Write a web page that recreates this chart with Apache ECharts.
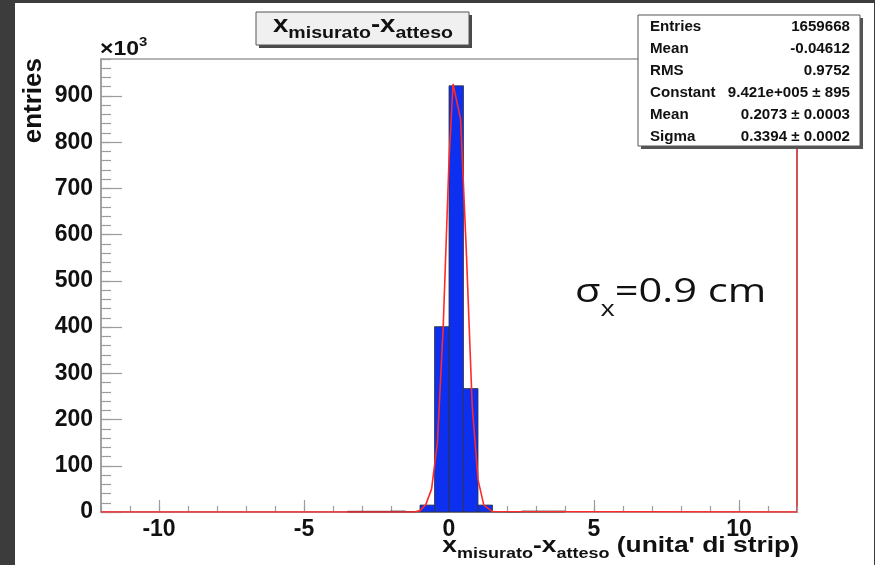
<!DOCTYPE html>
<html>
<head>
<meta charset="utf-8">
<title>x misurato - x atteso</title>
<script src="https://cdn.jsdelivr.net/npm/echarts@6/dist/echarts.min.js"></script>
<style>
html, body { margin: 0; padding: 0; background: #3c3c3c; }
#chart { width: 875px; height: 565px; }
</style>
</head>
<body>
<div id="chart"></div>
<script>
// histogram bins (low edge, strip units), counts in units of 10^3
var binWidth = 0.5;
var binStart = [-3.5, -3, -2.5, -2, -1.5, -1, -0.5, 0, 0.5, 1, 1.5, 2, 2.5, 3, 3.5];
var binCounts = [1.5, 1.5, 1.5, 2, 1, 15, 401, 922, 267, 15, 1, 0.5, 2, 2, 2];

// gaus fit
var fitX = [-12, -1.2, -1.0, -0.8, -0.6, -0.4, -0.2, 0.0, 0.14, 0.4, 0.6, 0.8, 1.0, 1.2, 1.5, 12];
var fitY = [0, 0, 3, 16, 50, 150, 400, 760, 926, 850, 560, 230, 70, 15, 1, 0];

var xMajorTicks = [-10, -5, 0, 5, 10];
var yMajorTicks = [0, 100, 200, 300, 400, 500, 600, 700, 800, 900];

// stats box
var statNames = ["Entries", "Mean", "RMS", "Constant", "Mean", "Sigma"];
var statValues = ["1659668", "-0.04612", "0.9752", "9.421e+005 \u00b1 895", "0.2073 \u00b1 0.0003", "0.3394 \u00b1 0.0002"];

var FONT = "'Liberation Sans'";
var TOP = 30;
var chart = echarts.init(document.getElementById("chart"), null, { renderer: "canvas" });

// text measuring, for sub/superscripts
var mctx = document.createElement("canvas").getContext("2d");
function textWidth(str, font) { mctx.font = font; return mctx.measureText(str).width; }

// parts: [[text, font, dy], ...]
function scriptText(parts, x, y, align, scaleX) {
  var w = 0, kids = [];
  parts.forEach(function (p) {
    kids.push({ type: "text", z: TOP, x: w, y: p[2], style: { text: p[0], font: p[1], fill: "#111", align: "left", verticalAlign: "middle" } });
    w += textWidth(p[0], p[1]);
  });
  var off = align === "right" ? -w : (align === "center" ? -w / 2 : 0);
  kids.forEach(function (k) { k.x += off; });
  return { type: "group", x: x, y: y, scaleX: scaleX || 1, children: kids };
}

function renderBin(params, api) {
  var x0 = api.value(0);
  var h = api.value(1);
  var pTop = api.coord([x0, h]);
  var pBot = api.coord([x0 + binWidth, 0]);
  return {
    type: "rect",
    shape: { x: pTop[0], y: pTop[1], width: pBot[0] - pTop[0], height: pBot[1] - pTop[1] },
    style: { fill: "#0c2ff0", stroke: "#333", lineWidth: 0.8 }
  };
}

var binData = binStart.map(function (b, i) { return [b, binCounts[i]]; });
var fitData = fitX.map(function (x, i) { return [x, fitY[i]]; });

// stats box graphic
var statChildren = [
  { type: "rect", z: TOP, shape: { x: 3, y: 3, width: 222, height: 131 }, style: { fill: "#555" } },
  { type: "rect", z: TOP, shape: { x: 0, y: 0, width: 222, height: 131 }, style: { fill: "#fff", stroke: "#555", lineWidth: 1 } }
];
statNames.forEach(function (n, i) {
  statChildren.push({ type: "text", z: TOP, x: 12, y: 12 + i * 22, scaleX: 1.08,
    style: { text: n, font: "bold 14px " + FONT, fill: "#111", verticalAlign: "middle", align: "left" } });
  statChildren.push({ type: "text", z: TOP, x: 212, y: 12 + i * 22, scaleX: 1.08,
    style: { text: statValues[i], font: "bold 14px " + FONT, fill: "#111", verticalAlign: "middle", align: "right" } });
});

var gray = "#9c9c9c";
var labelStyle = { color: "#111", fontFamily: "Liberation Sans", fontWeight: "bold", fontSize: 23 };

var B24 = "bold 24px " + FONT, B17 = "bold 17px " + FONT;
var B22 = "bold 22px " + FONT, B15 = "bold 15px " + FONT;

var option = {
  backgroundColor: "#3c3c3c",
  animation: false,
  grid: { left: 101, top: 59, right: 78, bottom: 53, show: true, borderColor: gray, borderWidth: 1.5, backgroundColor: "#fff" },
  xAxis: [
    { type: "value", min: -12, max: 12, interval: 1, position: "bottom",
      axisLine: { show: true, onZero: false, lineStyle: { color: gray, width: 1.5 } },
      axisTick: { show: true, inside: true, length: 6, lineStyle: { color: gray, width: 1.2 } },
      axisLabel: { show: false }, splitLine: { show: false } },
    { type: "value", min: -12, max: 12, interval: 1, position: "bottom",
      axisLine: { show: false, onZero: false },
      axisTick: { show: true, inside: true, length: 12, customValues: xMajorTicks, lineStyle: { color: gray, width: 1.2 } },
      axisLabel: Object.assign({ show: true, customValues: xMajorTicks, margin: 6 }, labelStyle),
      splitLine: { show: false } }
  ],
  yAxis: [
    { type: "value", min: 0, max: 980, interval: 20, position: "left",
      axisLine: { show: true, onZero: false, lineStyle: { color: gray, width: 1.5 } },
      axisTick: { show: true, inside: true, length: 10, lineStyle: { color: gray, width: 1.2 } },
      axisLabel: { show: false }, splitLine: { show: false } },
    { type: "value", min: 0, max: 980, interval: 20, position: "left",
      axisLine: { show: false, onZero: false },
      axisTick: { show: true, inside: true, length: 21, customValues: yMajorTicks, lineStyle: { color: gray, width: 1.2 } },
      axisLabel: Object.assign({ show: true, customValues: yMajorTicks, margin: 8 }, labelStyle),
      splitLine: { show: false } },
    { type: "value", min: 0, max: 980, position: "right",
      axisLine: { show: true, onZero: false, lineStyle: { color: "#e03030", width: 1.5 } },
      axisTick: { show: false }, axisLabel: { show: false }, splitLine: { show: false } }
  ],
  series: [
    { type: "custom", name: "hist", xAxisIndex: 0, yAxisIndex: 0, renderItem: renderBin, data: binData, z: 2 },
    { type: "line", name: "gaus", xAxisIndex: 0, yAxisIndex: 0, data: fitData, showSymbol: false, smooth: false,
      lineStyle: { color: "#ff2a2a", width: 1.6 }, z: 3 }
  ],
  graphic: [
    { type: "rect", z: -10, shape: { x: 15, y: 3, width: 859, height: 562 }, style: { fill: "#fff" } },
    // title box
    { type: "rect", z: TOP, shape: { x: 259, y: 15, width: 213, height: 33 }, style: { fill: "#4a4a4a" } },
    { type: "rect", z: TOP, shape: { x: 256, y: 12, width: 213, height: 33 }, style: { fill: "#f0f0f0", stroke: "#555", lineWidth: 1 } },
    scriptText([["x", B24, 0], ["misurato", B17, 8], ["-x", B24, 0], ["atteso", B17, 8]], 363, 25, "center", 1.15),
    // stats box
    { type: "group", x: 638, y: 15, children: statChildren },
    // x10^3
    scriptText([["\u00d710", "bold 20px " + FONT, 0], ["3", "bold 13px " + FONT, -7]], 100, 49, "left", 1.15),
    // y title
    { type: "text", x: 34, y: 58, rotation: Math.PI / 2, z: TOP, style: {
        text: "entries", font: "bold 26px " + FONT, fill: "#111", align: "right", verticalAlign: "middle" } },
    // x title
    scriptText([["x", B22, 0], ["misurato", B15, 8], ["-x", B22, 0], ["atteso", B15, 8], [" (unita' di strip)", B22, 0]], 799, 546, "right", 1.2),
    // sigma annotation
    scriptText([["\u03c3", "32px 'Open Sans'", 0], ["x", "21px 'Open Sans'", 17], ["=0.9 cm", "32px 'Open Sans'", 0]], 575, 293, "left", 1.3)
  ]
};

chart.setOption(option);
</script>
</body>
</html>
